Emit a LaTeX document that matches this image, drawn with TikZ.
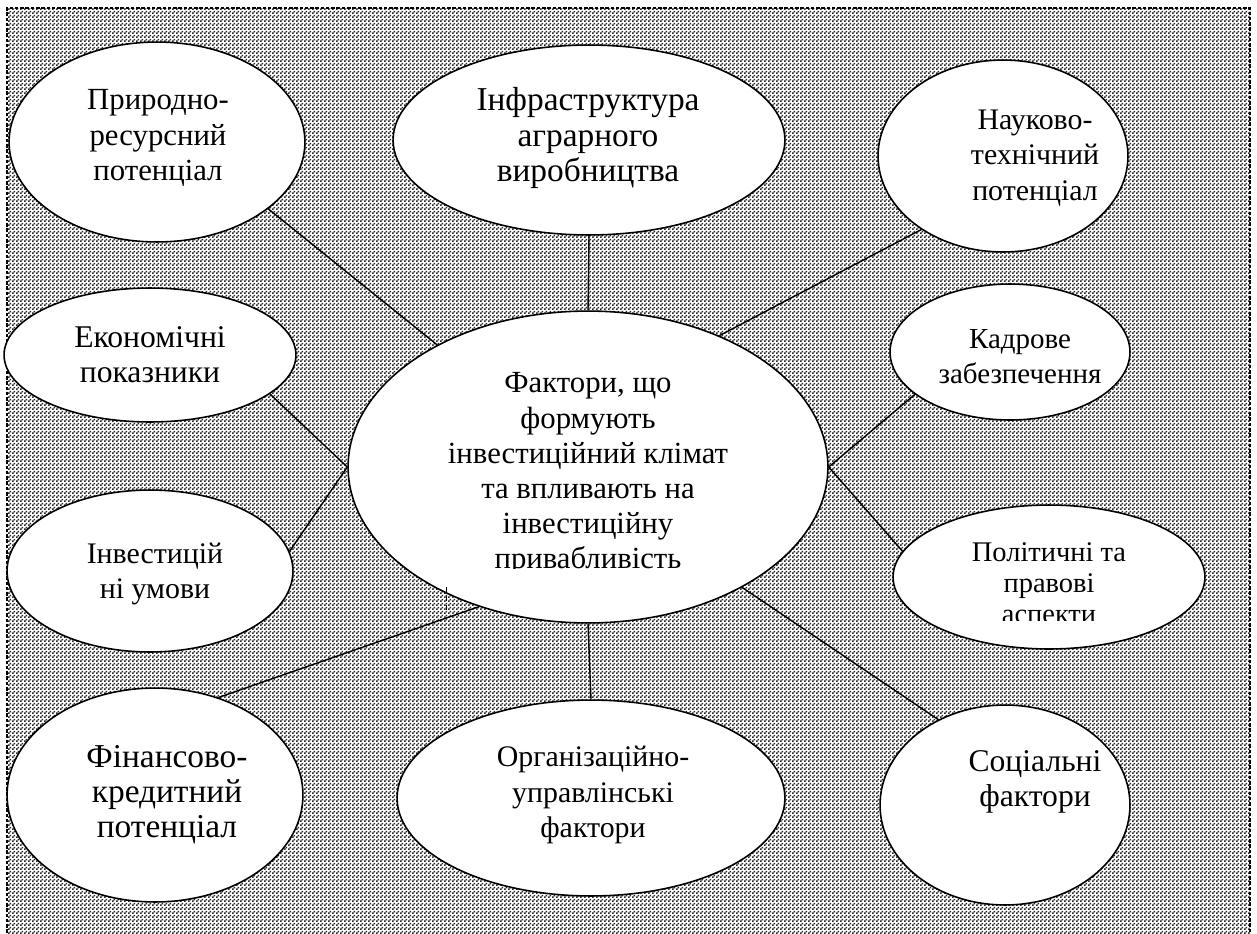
\documentclass[tikz,border=0pt]{standalone}
\usepackage{fontspec}
\setmainfont{Liberation Serif}
\usetikzlibrary{shapes.geometric,patterns.meta}

% small chequer for the shaded field
\tikzdeclarepattern{
  name=chequer,
  type=uncolored,
  bounding box={(0pt,0pt) and (2.28pt,2.28pt)},
  tile size={(2.28pt,2.28pt)},
  code={
    \pgfpathrectangle{\pgfpointorigin}{\pgfpoint{1.14pt}{1.14pt}}
    \pgfpathrectangle{\pgfpoint{1.14pt}{1.14pt}}{\pgfpoint{1.14pt}{1.14pt}}
    \pgfusepath{fill}
  }
}

\begin{document}
\begin{tikzpicture}[x=0.02cm, y=-0.02cm,
    blob/.style 2 args={ellipse, draw, line width=0.9pt, fill=white, inner sep=0pt,
                        minimum width={#1*0.04cm}, minimum height={#2*0.04cm}},
    txt/.style={align=center, font=\fontsize{#1}{20}\selectfont},
    txt/.default=18,
    link/.style={line width=0.8pt}]
    \useasboundingbox (0,0) rectangle (1257,933);

    % Shaded field and its frame
    \fill[pattern=chequer, pattern color=black!85] (7,8) rectangle (1250,933);
    \draw[line width=0.8pt, dash pattern=on 2pt off 1pt] (7,933) -- (7,8) -- (1250,8) -- (1250,933);

    % Ellipses
    \node[blob={148}{100}] (prir)  at (157,142) {};
    \node[blob={196}{95}]  (infra) at (589,140) {};
    \node[blob={125}{96}]  (nauk)  at (1003,156) {};
    \node[blob={146}{67}]  (econ)  at (150,355) {};
    \node[blob={240}{156}] (fact)  at (588,467) {};
    \node[blob={120}{68}]  (kadr)  at (1010,352) {};
    \node[blob={143}{81}]  (umov)  at (150,571) {};
    \node[blob={156}{72}]  (polit) at (1049,577) {};
    \node[blob={148}{107}] (fin)   at (155,795) {};
    \node[blob={194}{98}]  (org)   at (591,798) {};
    \node[blob={125}{100}] (soc)   at (1005,805) {};

    % Texts
    \node[txt=17.5] (prir-t)  at (158,138)  {Природно-\\ресурсний\\потенціал};
    \node[txt=19]   (infra-t) at (588,138)  {Інфраструктура\\аграрного\\виробництва};
    \node[txt=17]   (nauk-t)  at (1035,158) {Науково-\\технічний\\потенціал};
    \node[txt]      (econ-t)  at (150,355)  {Економічні\\показники};
    \node[txt=16.5] (kadr-t)  at (1020,357) {Кадрове\\забезпечення};
    \node[txt=17]   (umov-t)  at (155,574)  {Інвестицій\\ні умови};
    \node[txt=19]   (fin-t)   at (167,795)  {Фінансово-\\кредитний\\потенціал};
    \node[txt=17]   (org-t)   at (593,795)  {Організаційно-\\управлінські\\фактори};
    \node[txt]      (soc-t)   at (1035,782) {Соціальні\\фактори};
    \begin{scope}
        \clip (348,300) rectangle (830,568);
        \node[txt=17.5] (fact-t) at (588,474) {Фактори, що\\формують\\інвестиційний клімат\\та впливають на\\інвестиційну\\привабливість};
    \end{scope}
    \begin{scope}
        \clip (893,500) rectangle (1205,620);
        \node[align=center, font=\fontsize{16.2}{17.5}\selectfont] (polit-t) at (1049,583) {Політичні та\\правові\\аспекти};
    \end{scope}

    % Links to the centre
    \draw[link] (prir.-31) -- (fact.141);
    \draw[link] (infra.south) -- (fact.north);
    \draw[link] (nauk.222) -- (fact.45);
    \draw[link] (econ.-18) -- (fact.west);
    \draw[link] (umov.8) -- (fact.west);
    \draw[link] (kadr.204) -- (fact.east);
    \draw[link] (polit.170) -- (fact.east);
    \draw[link] (fin.57) -- (fact.-128);
    \draw[link] (org.north) -- (fact.south);
    \draw[link] (soc.128) -- (fact.-38);

    % stray tick
    \coordinate (tickA) at (446,587);
    \coordinate (tickB) at (446,613);
    \draw[densely dashed, line width=0.4pt] (tickA) -- (tickB);
\end{tikzpicture}
\end{document}
